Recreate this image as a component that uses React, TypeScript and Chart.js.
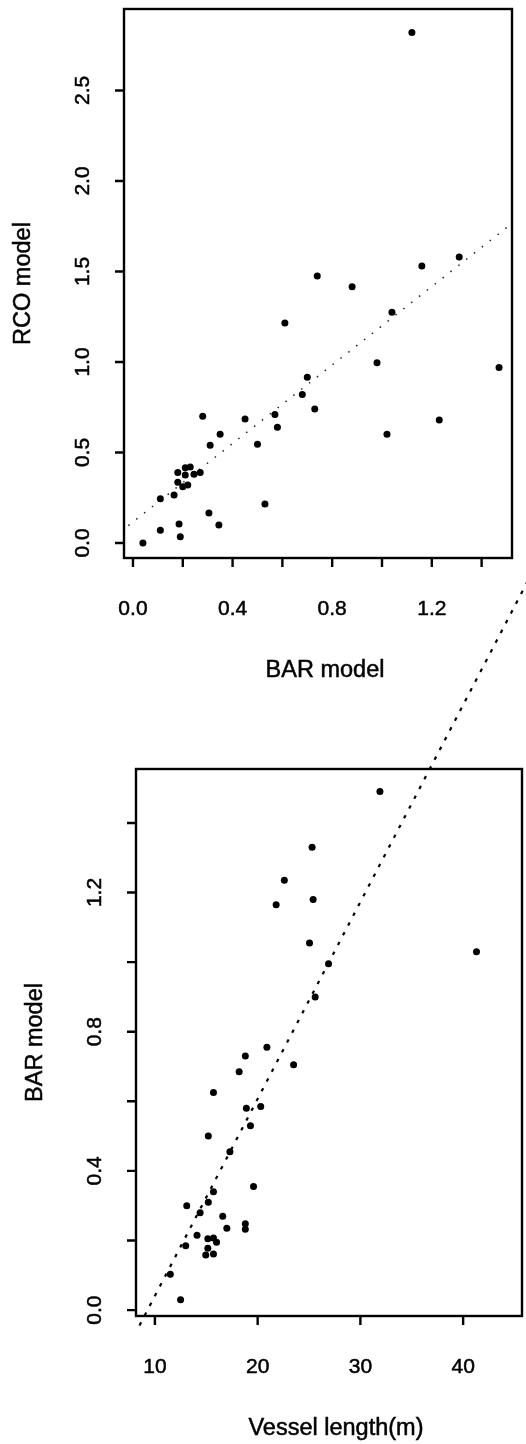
import { useEffect, useRef } from "react";
import { Chart, registerables } from "chart.js";

Chart.register(...registerables);

// Upper panel: RCO model estimate plotted against BAR model estimate
const barModel = [
  1.12, 0.74, 0.88, 1.16, 1.31, 1.04, 0.61, 0.98, 1.47, 0.70,
  0.68, 0.73, 0.28, 0.45, 0.57, 0.58, 1.23, 0.35, 1.02, 0.31,
  0.50, 0.21, 0.23, 0.18, 0.21, 0.245, 0.27, 0.18, 0.20, 0.22,
  0.165, 0.11, 0.305, 0.53, 0.11, 0.185, 0.345, 0.19, 0.04,
];
const rcoModel = [
  2.82, 1.475, 1.415, 1.53, 1.58, 1.275, 1.215, 0.995, 0.97, 0.915,
  0.82, 0.74, 0.70, 0.685, 0.71, 0.64, 0.68, 0.60, 0.60, 0.54,
  0.545, 0.415, 0.42, 0.39, 0.375, 0.38, 0.39, 0.335, 0.31, 0.32,
  0.265, 0.245, 0.165, 0.215, 0.07, 0.105, 0.10, 0.035, 0.0,
];
// Fitted line through the upper panel (end points)
const topTrendX = [-0.05, 1.55];
const topTrendY = [0.062, 1.796];

// Lower panel: BAR model estimate plotted against vessel length
const vesselLength = [
  31.9, 25.3, 22.6, 21.8, 25.4, 25.05, 41.3, 26.9, 25.6, 20.9,
  18.8, 23.5, 18.2, 15.7, 18.9, 20.3, 19.3, 15.2, 17.3, 19.6,
  15.7, 15.2, 13.1, 14.4, 16.6, 17.0, 18.8, 18.8, 14.1, 15.15,
  15.7, 16.0, 13.0, 15.15, 14.95, 15.7, 11.5, 12.5,
];
const barByLength = [
  1.49, 1.33, 1.235, 1.165, 1.18, 1.055, 1.03, 0.995, 0.90, 0.755,
  0.73, 0.705, 0.685, 0.625, 0.58, 0.585, 0.53, 0.50, 0.455, 0.355,
  0.34, 0.31, 0.30, 0.28, 0.27, 0.235, 0.248, 0.232, 0.215, 0.205,
  0.207, 0.195, 0.185, 0.178, 0.158, 0.161, 0.103, 0.03,
];
// Fitted line through the lower panel (end points)
const bottomTrendX = [8.5, 46.5];
const bottomTrendY = [-0.044, 2.107];

// Axis ticks and their labels
const topXTicks = [0, 0.2, 0.4, 0.6, 0.8, 1.0, 1.2, 1.4];
const topXLabels = ["0.0", "0.4", "0.8", "1.2"];
const topYTicks = [0, 0.5, 1.0, 1.5, 2.0, 2.5];
const topYLabels = ["0.0", "0.5", "1.0", "1.5", "2.0", "2.5"];
const bottomXTicks = [10, 20, 30, 40];
const bottomXLabels = ["10", "20", "30", "40"];
const bottomYTicks = [0, 0.2, 0.4, 0.6, 0.8, 1.0, 1.2, 1.4];
const bottomYLabels = ["0.0", "0.4", "0.8", "1.2"];

const FONT = '"Liberation Sans", Arial, Helvetica, sans-serif';

type AxisSpec = {
  xTicks: number[];
  xLabels: string[];
  yTicks: number[];
  yLabels: string[];
  xTitle: string;
  yTitle: string;
};

// Slightly heavy text, like a printed figure
function inkText(ctx: CanvasRenderingContext2D, text: string, x: number, y: number) {
  ctx.fillText(text, x, y);
  ctx.strokeText(text, x, y);
}

// Base-graphics style box, outward ticks, rotated y labels and axis titles
function makeBoxAxes(spec: AxisSpec) {
  return {
    id: "boxAxes",
    afterDatasetsDraw(chart: any) {
      const { ctx, chartArea: a, scales } = chart;
      const xs = scales.x;
      const ys = scales.y;
      const tickLen = 9;
      ctx.save();
      ctx.strokeStyle = "#000";
      ctx.lineWidth = 2.4;
      ctx.strokeRect(a.left, a.top, a.right - a.left, a.bottom - a.top);

      ctx.beginPath();
      for (const v of spec.xTicks) {
        const px = xs.getPixelForValue(v);
        ctx.moveTo(px, a.bottom);
        ctx.lineTo(px, a.bottom + tickLen);
      }
      for (const v of spec.yTicks) {
        const py = ys.getPixelForValue(v);
        ctx.moveTo(a.left, py);
        ctx.lineTo(a.left - tickLen, py);
      }
      ctx.stroke();

      ctx.fillStyle = "#000";
      ctx.lineWidth = 0.5;
      ctx.textAlign = "center";
      ctx.textBaseline = "middle";
      ctx.font = `21px ${FONT}`;
      for (const l of spec.xLabels) {
        inkText(ctx, l, xs.getPixelForValue(Number(l)), a.bottom + 51);
      }
      for (const l of spec.yLabels) {
        const py = ys.getPixelForValue(Number(l));
        ctx.save();
        ctx.translate(a.left - 41, py);
        ctx.rotate(-Math.PI / 2);
        inkText(ctx, l, 0, 0);
        ctx.restore();
      }

      ctx.font = `23.5px ${FONT}`;
      inkText(ctx, spec.xTitle, (a.left + a.right) / 2 + 7, a.bottom + 113);
      ctx.save();
      ctx.translate(a.left - 100, (a.top + a.bottom) / 2);
      ctx.rotate(-Math.PI / 2);
      inkText(ctx, spec.yTitle, 0, 0);
      ctx.restore();
      ctx.restore();
    },
  };
}

const toPoints = (xs: number[], ys: number[]) => xs.map((x, i) => ({ x, y: ys[i] }));

export default function App() {
  const topRef = useRef<HTMLCanvasElement>(null);
  const bottomRef = useRef<HTMLCanvasElement>(null);

  useEffect(() => {
    const top = new Chart(topRef.current!, {
      type: "scatter",
      data: {
        datasets: [
          {
            data: toPoints(barModel, rcoModel),
            backgroundColor: "#000",
            borderWidth: 0,
            pointRadius: 3.5,
          },
          {
            data: toPoints(topTrendX, topTrendY),
            showLine: true,
            pointRadius: 0,
            borderColor: "#222",
            borderWidth: 1.5,
            borderDash: [1.5, 8.5],
          },
        ],
      },
      options: {
        responsive: false,
        maintainAspectRatio: false,
        animation: false,
        devicePixelRatio: 1,
        layout: { padding: { left: 124, right: 14, top: 9, bottom: 142 } },
        plugins: { legend: { display: false }, tooltip: { enabled: false } },
        scales: {
          x: { type: "linear", display: false, min: -0.036, max: 1.522 },
          y: { type: "linear", display: false, min: -0.083, max: 2.95 },
        },
      },
      plugins: [
        makeBoxAxes({
          xTicks: topXTicks,
          xLabels: topXLabels,
          yTicks: topYTicks,
          yLabels: topYLabels,
          xTitle: "BAR model",
          yTitle: "RCO model",
        }),
      ],
    } as any);

    const bottom = new Chart(bottomRef.current!, {
      type: "scatter",
      data: {
        datasets: [
          {
            data: toPoints(vesselLength, barByLength),
            backgroundColor: "#000",
            borderWidth: 0,
            pointRadius: 3.5,
          },
          {
            data: toPoints(bottomTrendX, bottomTrendY),
            showLine: true,
            pointRadius: 0,
            borderColor: "#000",
            borderWidth: 2.2,
            borderDash: [3.5, 7.5],
            clip: false,
          },
        ],
      },
      options: {
        responsive: false,
        maintainAspectRatio: false,
        animation: false,
        devicePixelRatio: 1,
        layout: { padding: { left: 136, right: 3, top: 209, bottom: 128 } },
        plugins: { legend: { display: false }, tooltip: { enabled: false } },
        scales: {
          x: { type: "linear", display: false, min: 8.16, max: 45.73 },
          y: { type: "linear", display: false, min: -0.017, max: 1.555 },
        },
      },
      plugins: [
        makeBoxAxes({
          xTicks: bottomXTicks,
          xLabels: bottomXLabels,
          yTicks: bottomYTicks,
          yLabels: bottomYLabels,
          xTitle: "Vessel length(m)",
          yTitle: "BAR model",
        }),
      ],
    } as any);

    return () => {
      top.destroy();
      bottom.destroy();
    };
  }, []);

  return (
    <div
      style={{
        position: "absolute",
        left: 0,
        top: 0,
        width: 526,
        height: 1444,
        background: "#fff",
        overflow: "hidden",
      }}
    >
      <canvas
        ref={topRef}
        width={526}
        height={700}
        style={{ position: "absolute", left: 0, top: 0, width: 526, height: 700 }}
      />
      <canvas
        ref={bottomRef}
        width={526}
        height={884}
        style={{ position: "absolute", left: 0, top: 560, width: 526, height: 884 }}
      />
    </div>
  );
}
